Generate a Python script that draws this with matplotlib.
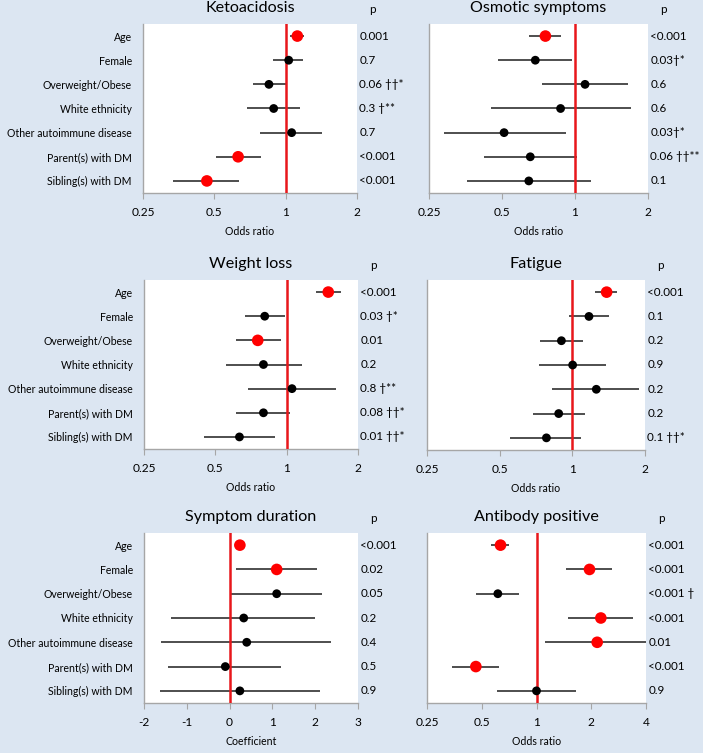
import numpy as np
import matplotlib
matplotlib.use('Agg')
import matplotlib.pyplot as plt
from matplotlib.ticker import FixedLocator, NullLocator

plt.rcParams['font.family'] = ['Lato', 'DejaVu Sans']

# 공통 변수
variables = ['Age', 'Female', 'Overweight/Obese', 'White ethnicity',
             'Other autoimmune disease', 'Parent(s) with DM', 'Sibling(s) with DM']

# Ketoacidosis
keto_est = [1.12, 1.03, 0.85, 0.89, 1.06, 0.63, 0.465]
keto_lo = [1.04, 0.88, 0.73, 0.685, 0.78, 0.51, 0.335]
keto_hi = [1.19, 1.18, 1.0, 1.15, 1.42, 0.79, 0.635]
keto_sig = [True, False, False, False, False, True, True]
keto_p = ['0.001', '0.7', '0.06 ††*', '0.3 †**', '0.7', '<0.001', '<0.001']

# Osmotic symptoms
osm_est = [0.755, 0.686, 1.10, 0.872, 0.51, 0.654, 0.645]
osm_lo = [0.645, 0.481, 0.733, 0.451, 0.288, 0.421, 0.359]
osm_hi = [0.872, 0.975, 1.656, 1.709, 0.915, 1.019, 1.168]
osm_sig = [True, False, False, False, False, False, False]
osm_p = ['<0.001', '0.03†*', '0.6', '0.6', '0.03†*', '0.06 ††**', '0.1']

# Weight loss
wl_est = [1.498, 0.808, 0.755, 0.798, 1.053, 0.798, 0.632]
wl_lo = [1.325, 0.666, 0.61, 0.552, 0.685, 0.61, 0.447]
wl_hi = [1.688, 0.981, 0.943, 1.164, 1.608, 1.036, 0.893]
wl_sig = [True, False, True, False, False, False, False]
wl_p = ['<0.001', '0.03 †*', '0.01', '0.2', '0.8 †**', '0.08 ††*', '0.01 ††*']

# Fatigue
fat_est = [1.387, 1.172, 0.901, 1.003, 1.257, 0.878, 0.781]
fat_lo = [1.245, 0.966, 0.735, 0.726, 0.824, 0.685, 0.554]
fat_hi = [1.535, 1.413, 1.107, 1.378, 1.893, 1.124, 1.083]
fat_sig = [True, False, False, False, False, False, False]
fat_p = ['<0.001', '0.1', '0.2', '0.9', '0.2', '0.2', '0.1 ††*']

# Symptom duration (coefficient)
dur_est = [0.24, 1.10, 1.10, 0.33, 0.40, -0.10, 0.24]
dur_lo = [0.22, 0.15, 0.0, -1.38, -1.60, -1.45, -1.63]
dur_hi = [0.26, 2.05, 2.16, 1.99, 2.38, 1.21, 2.11]
dur_sig = [True, True, False, False, False, False, False]
dur_p = ['<0.001', '0.02', '0.05', '0.2', '0.4', '0.5', '0.9']

# Antibody positive
ab_est = [0.634, 1.956, 0.613, 2.258, 2.156, 0.464, 1.0]
ab_lo = [0.563, 1.462, 0.464, 1.487, 1.111, 0.344, 0.608]
ab_hi = [0.708, 2.585, 0.803, 3.372, 4.3, 0.621, 1.652]
ab_sig = [True, True, False, True, True, True, False]
ab_p = ['<0.001', '<0.001', '<0.001 †', '<0.001', '0.01', '<0.001', '0.9']

bg = '#dce6f2'
W, H = 703, 753
fig = plt.figure(figsize=(W / 100, H / 100), dpi=100, facecolor=bg)


def panel(px, title, est, lo, hi, sig, pvals, ticks, ticklabels, xlabel,
          log=True, ref=1, show_labels=True):
    x0, y0, x1, y1 = px
    h = y1 - y0
    ax = fig.add_axes([x0 / W, 1 - y1 / H, (x1 - x0) / W, h / H])
    ax.set_facecolor('white')
    y = np.arange(len(variables))
    colors = ['#ff0000' if s else 'black' for s in sig]
    sizes = [70 if s else 40 for s in sig]
    ax.hlines(y, lo, hi, color='#404040', lw=1.3, zorder=2)
    ax.axvline(ref, color='#e8171b', lw=1.8, zorder=3)
    ax.scatter(est, y, c=colors, s=sizes, zorder=4, linewidths=0)
    if log:
        ax.set_xscale('log')
    ax.set_xlim(ticks[0], ticks[-1])
    ax.xaxis.set_major_locator(FixedLocator(ticks))
    ax.xaxis.set_minor_locator(NullLocator())
    ax.set_xticklabels(ticklabels, fontsize=8.6)
    ax.set_ylim(6.5, -0.5)
    ax.set_yticks(y)
    if show_labels:
        ax.set_yticklabels(variables, fontsize=7.6)
    else:
        ax.set_yticklabels([])
    ax.tick_params(axis='y', length=0, pad=8)
    ax.tick_params(axis='x', length=4, color='#a6a6a6', pad=6)
    for s in ['top', 'right']:
        ax.spines[s].set_visible(False)
    for s in ['left', 'bottom']:
        ax.spines[s].set_color('#a6a6a6')
        ax.spines[s].set_linewidth(1.0)
    ax.set_xlabel(xlabel, fontsize=7.6, labelpad=6)
    ax.text(0.5, 1 + 12 / h, title, transform=ax.transAxes, ha='center',
            va='baseline', fontsize=11.6)
    # p 값
    tr = ax.get_yaxis_transform()
    for yi, pv in zip(y, pvals):
        ax.text(1.01, yi, pv, transform=tr, ha='left', va='center', fontsize=8.4,
                clip_on=False)
    ax.text(1.07, 1 + 11 / h, 'p', transform=ax.transAxes, ha='center',
            va='baseline', fontsize=8.4)
    return ax


odds_ticks = [0.25, 0.5, 1, 2]
odds_labels = ['0.25', '0.5', '1', '2']

panel((143, 24, 357, 193), 'Ketoacidosis', keto_est, keto_lo, keto_hi, keto_sig,
      keto_p, odds_ticks, odds_labels, 'Odds ratio')
panel((429, 24, 648, 193), 'Osmotic symptoms', osm_est, osm_lo, osm_hi, osm_sig,
      osm_p, odds_ticks, odds_labels, 'Odds ratio', show_labels=False)
panel((144, 280, 358, 449), 'Weight loss', wl_est, wl_lo, wl_hi, wl_sig,
      wl_p, odds_ticks, odds_labels, 'Odds ratio')
panel((427, 280, 645, 450), 'Fatigue', fat_est, fat_lo, fat_hi, fat_sig,
      fat_p, odds_ticks, odds_labels, 'Odds ratio', show_labels=False)
panel((144, 533, 358, 703), 'Symptom duration', dur_est, dur_lo, dur_hi, dur_sig,
      dur_p, [-2, -1, 0, 1, 2, 3], ['-2', '-1', '0', '1', '2', '3'], 'Coefficient',
      log=False, ref=0)
panel((427, 533, 646, 703), 'Antibody positive', ab_est, ab_lo, ab_hi, ab_sig,
      ab_p, [0.25, 0.5, 1, 2, 4], ['0.25', '0.5', '1', '2', '4'], 'Odds ratio',
      show_labels=False)

fig.savefig('out.png', dpi=100, facecolor=bg)
